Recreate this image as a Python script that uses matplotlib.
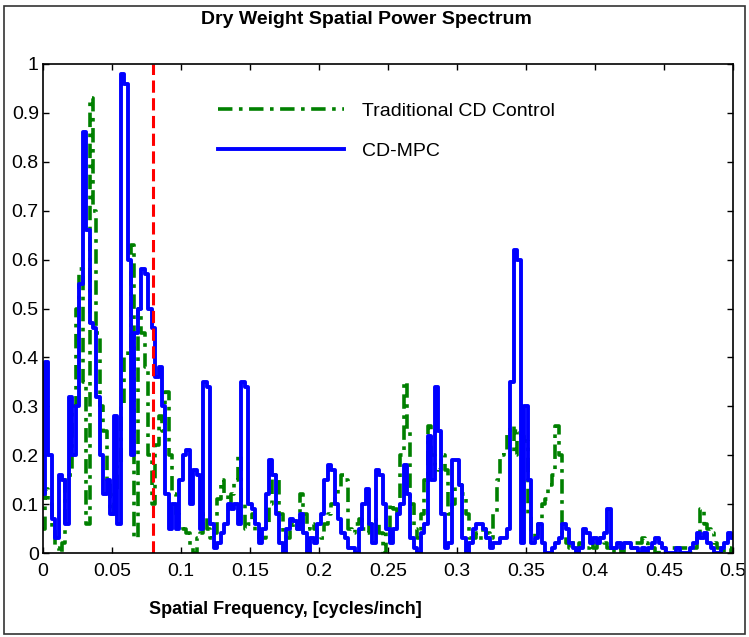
import matplotlib
matplotlib.use("Agg")
import matplotlib.pyplot as plt
from matplotlib.patches import Rectangle
from matplotlib.ticker import FuncFormatter
import numpy as np

plt.rcParams["font.family"] = ["Liberation Sans", "DejaVu Sans"]

# spatial frequency grid, cycles/inch (step 0.0025)
freq = np.arange(201) * 0.0025

# Traditional CD Control spectrum
traditional = [
    0.05, 0.13, 0.10, 0.05, 0.01, 0.00, 0.02, 0.15, 0.16, 0.30,
    0.50, 0.58, 0.35, 0.06, 0.93, 0.70, 0.45, 0.30, 0.25, 0.15,
    0.08, 0.12, 0.18, 0.30, 0.40, 0.42, 0.63, 0.03, 0.50, 0.45,
    0.38, 0.20, 0.10, 0.22, 0.28, 0.25, 0.33, 0.20, 0.12, 0.08,
    0.06, 0.05, 0.04, 0.01, 0.00, 0.03, 0.04, 0.08, 0.05, 0.03,
    0.04, 0.11, 0.15, 0.12, 0.10, 0.12, 0.15, 0.20, 0.10, 0.05,
    0.06, 0.08, 0.04, 0.03, 0.03, 0.06, 0.10, 0.16, 0.15, 0.08,
    0.04, 0.03, 0.05, 0.06, 0.05, 0.12, 0.08, 0.05, 0.06, 0.05,
    0.04, 0.03, 0.06, 0.08, 0.10, 0.12, 0.13, 0.16, 0.15, 0.05,
    0.04, 0.06, 0.07, 0.05, 0.04, 0.06, 0.07, 0.06, 0.04, 0.00,
    0.05, 0.10, 0.09, 0.08, 0.20, 0.35, 0.25, 0.10, 0.05, 0.03,
    0.08, 0.15, 0.26, 0.20, 0.18, 0.17, 0.20, 0.17, 0.08, 0.10,
    0.14, 0.14, 0.12, 0.08, 0.03, 0.03, 0.04, 0.03, 0.05, 0.04,
    0.03, 0.08, 0.15, 0.20, 0.21, 0.25, 0.26, 0.20, 0.25, 0.24,
    0.23, 0.08, 0.04, 0.03, 0.06, 0.10, 0.11, 0.14, 0.16, 0.26,
    0.20, 0.04, 0.02, 0.01, 0.02, 0.01, 0.02, 0.01, 0.01, 0.02,
    0.01, 0.02, 0.03, 0.02, 0.01, 0.00, 0.01, 0.01, 0.00, 0.01,
    0.01, 0.01, 0.02, 0.02, 0.03, 0.02, 0.01, 0.01, 0.00, 0.01,
    0.01, 0.01, 0.01, 0.01, 0.01, 0.01, 0.01, 0.01, 0.00, 0.01,
    0.04, 0.09, 0.06, 0.05, 0.04, 0.02, 0.01, 0.00, 0.01, 0.01,
    0.00,
]

# CD-MPC spectrum
cdmpc = [
    0.12, 0.39, 0.20, 0.07, 0.03, 0.16, 0.15, 0.06, 0.32, 0.20,
    0.30, 0.55, 0.86, 0.66, 0.47, 0.46, 0.32, 0.20, 0.12, 0.15,
    0.08, 0.28, 0.06, 0.98, 0.96, 0.60, 0.20, 0.45, 0.50, 0.58,
    0.57, 0.50, 0.46, 0.36, 0.38, 0.30, 0.12, 0.05, 0.10, 0.05,
    0.15, 0.20, 0.21, 0.10, 0.17, 0.16, 0.05, 0.35, 0.34, 0.06,
    0.01, 0.02, 0.04, 0.06, 0.10, 0.09, 0.10, 0.06, 0.35, 0.34,
    0.10, 0.09, 0.06, 0.02, 0.05, 0.12, 0.19, 0.16, 0.08, 0.02,
    0.00, 0.05, 0.07, 0.065, 0.05, 0.08, 0.04, 0.00, 0.03, 0.02,
    0.06, 0.08, 0.15, 0.18, 0.17, 0.10, 0.07, 0.04, 0.03, 0.01,
    0.01, 0.00, 0.05, 0.10, 0.13, 0.06, 0.02, 0.17, 0.16, 0.10,
    0.05, 0.02, 0.05, 0.08, 0.10, 0.18, 0.12, 0.03, 0.01, 0.00,
    0.04, 0.06, 0.24, 0.15, 0.34, 0.25, 0.08, 0.01, 0.02, 0.19,
    0.19, 0.14, 0.03, 0.00, 0.02, 0.05, 0.06, 0.06, 0.05, 0.03,
    0.01, 0.02, 0.02, 0.03, 0.03, 0.05, 0.35, 0.62, 0.60, 0.02,
    0.30, 0.15, 0.02, 0.03, 0.06, 0.02, 0.00, 0.00, 0.01, 0.02,
    0.03, 0.06, 0.05, 0.02, 0.01, 0.00, 0.01, 0.05, 0.04, 0.02,
    0.03, 0.02, 0.03, 0.04, 0.09, 0.01, 0.01, 0.02, 0.01, 0.02,
    0.02, 0.01, 0.01, 0.00, 0.01, 0.00, 0.01, 0.02, 0.03, 0.02,
    0.01, 0.00, 0.00, 0.00, 0.01, 0.00, 0.00, 0.00, 0.01, 0.02,
    0.04, 0.03, 0.04, 0.02, 0.01, 0.00, 0.00, 0.01, 0.02, 0.04,
    0.03,
]

cutoff = 0.08
xticks = np.arange(0, 0.501, 0.05)
yticks = np.arange(0, 1.001, 0.1)

fig = plt.figure(figsize=(7.49, 6.37), dpi=100)
ax = fig.add_axes([43 / 749, 1 - 553 / 637, 690 / 749, 489 / 637])

ax.plot(freq, traditional, color="#008000", lw=2.6, drawstyle="steps-mid",
        linestyle=(0, (4, 1.8, 1, 1.8)), label="Traditional CD Control")
ax.plot(freq, cdmpc, color="#0000ff", lw=2.8, drawstyle="steps-mid",
        label="CD-MPC")
ax.axvline(cutoff, color="#ff0000", lw=2.2, linestyle=(0, (4, 1.8)))

ax.set_xlim(0, 0.5)
ax.set_ylim(0, 1)
ax.set_xticks(xticks)
ax.set_yticks(yticks)
fmt = FuncFormatter(lambda v, p: f"{v:g}")
ax.xaxis.set_major_formatter(fmt)
ax.yaxis.set_major_formatter(fmt)
ax.tick_params(direction="in", top=True, right=True, length=4, width=1,
               labelsize=14, pad=7)
ax.tick_params(axis="y", pad=3)
for s in ax.spines.values():
    s.set_linewidth(1.2)

ax.legend(loc="upper left", bbox_to_anchor=(218 / 749, 1 - 102 / 637),
          bbox_transform=fig.transFigure, frameon=False, fontsize=14,
          handlelength=6.5, handletextpad=0.9, labelspacing=1.15,
          borderpad=0, borderaxespad=0)

fig.text(366 / 749, 1 - 19 / 637, "Dry Weight Spatial Power Spectrum",
         ha="center", va="center", fontsize=14, fontweight="bold")
fig.text(285 / 749, 1 - 609 / 637, "Spatial Frequency, [cycles/inch]",
         ha="center", va="center", fontsize=13, fontweight="bold")

fig.patches.append(Rectangle((4 / 749, 3 / 637), 741 / 749, 628 / 637,
                             transform=fig.transFigure, fill=False,
                             edgecolor="#333333", lw=1.2))

fig.savefig("out.png", dpi=100)
